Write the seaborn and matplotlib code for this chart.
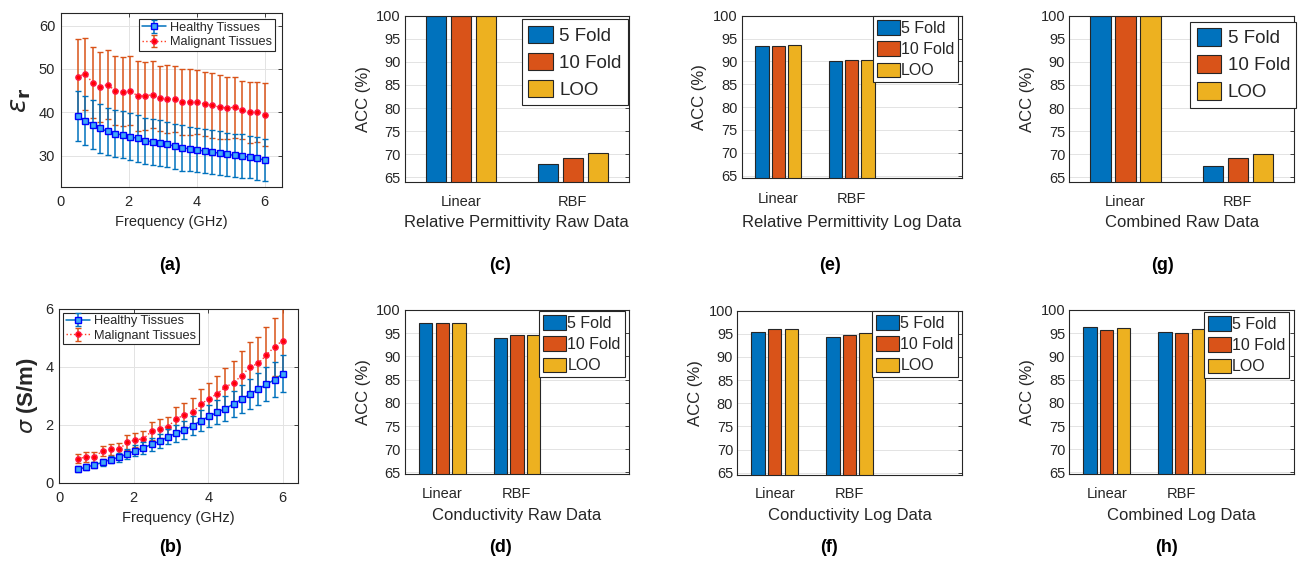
import pandas as pd
import matplotlib
matplotlib.use('Agg')
import matplotlib.pyplot as plt
import seaborn as sns
from matplotlib.patches import Patch

# ==============================================================================
# Data
# ==============================================================================

freq_ghz = [0.5, 0.72, 0.94, 1.16, 1.38, 1.6, 1.82, 2.04, 2.26, 2.48, 2.7, 2.92, 3.14,
            3.36, 3.58, 3.8, 4.02, 4.24, 4.46, 4.68, 4.9, 5.12, 5.34, 5.56, 5.78, 6.0]

eps_healthy = [39.2, 38.1, 37.2, 36.3, 35.6, 35.1, 34.8, 34.4, 34.0, 33.5, 33.2, 33.0, 32.6,
               32.2, 31.8, 31.6, 31.3, 31.1, 30.8, 30.6, 30.3, 30.1, 29.9, 29.7, 29.4, 29.0]
eps_healthy_err = [5.8, 5.7, 5.6, 5.6, 5.5, 5.5, 5.4, 5.4, 5.4, 5.3, 5.3, 5.3, 5.2,
                   5.2, 5.2, 5.1, 5.1, 5.1, 5.1, 5.0, 5.0, 5.0, 5.0, 4.9, 4.9, 4.9]
eps_malignant = [48.2, 48.9, 46.8, 45.9, 46.4, 45.0, 44.8, 45.0, 43.8, 43.8, 44.1, 43.2, 43.1,
                 43.1, 42.4, 42.4, 42.4, 41.9, 41.6, 41.2, 41.0, 41.2, 40.5, 40.0, 40.1, 39.5]
eps_malignant_err = [8.7, 8.3, 8.2, 8.1, 7.9, 8.0, 8.0, 7.9, 8.0, 7.9, 7.8, 7.6, 7.8,
                     7.6, 7.6, 7.6, 7.4, 7.3, 7.4, 7.4, 7.2, 7.0, 6.7, 7.0, 6.9, 7.2]

sig_healthy = [0.47, 0.53, 0.62, 0.70, 0.80, 0.88, 0.99, 1.11, 1.20, 1.33, 1.43, 1.59, 1.71,
               1.82, 1.97, 2.14, 2.29, 2.43, 2.56, 2.72, 2.89, 3.06, 3.23, 3.40, 3.56, 3.76]
sig_healthy_err = [0.09, 0.10, 0.11, 0.12, 0.13, 0.15, 0.17, 0.19, 0.20, 0.22, 0.24, 0.27, 0.29,
                   0.31, 0.33, 0.36, 0.38, 0.41, 0.43, 0.46, 0.49, 0.52, 0.55, 0.58, 0.60, 0.64]
sig_malignant = [0.83, 0.89, 0.89, 1.10, 1.15, 1.15, 1.39, 1.48, 1.52, 1.78, 1.87, 1.94, 2.21,
                 2.34, 2.43, 2.72, 2.89, 3.08, 3.30, 3.46, 3.70, 4.00, 4.12, 4.41, 4.70, 4.91]
sig_malignant_err = [0.16, 0.18, 0.18, 0.18, 0.19, 0.23, 0.27, 0.25, 0.28, 0.31, 0.32, 0.34, 0.42,
                     0.43, 0.51, 0.53, 0.54, 0.61, 0.67, 0.74, 0.84, 0.85, 0.93, 0.98, 1.00, 1.15]

kernels = ['Linear', 'RBF']
folds = ['5 Fold', '10 Fold', 'LOO']

# rows = kernel, columns = fold scheme
acc_perm_raw = [[100.0, 100.0, 100.0], [67.8, 69.3, 70.3]]
acc_cond_raw = [[97.3, 97.3, 97.3], [93.9, 94.7, 94.7]]
acc_perm_log = [[93.3, 93.4, 93.6], [90.1, 90.2, 90.4]]
acc_cond_log = [[95.4, 96.0, 96.0], [94.4, 94.8, 95.1]]
acc_comb_raw = [[100.0, 100.0, 100.0], [67.4, 69.2, 70.1]]
acc_comb_log = [[96.3, 95.6, 96.2], [95.2, 95.0, 95.9]]

fold_colors = {'5 Fold': '#0072BD', '10 Fold': '#D95319', 'LOO': '#EDB120'}
TXT = '#262626'

# ==============================================================================
# Style
# ==============================================================================
sns.set_theme(style='white')
plt.rcParams['font.family'] = ['Liberation Sans', 'DejaVu Sans']
plt.rcParams['mathtext.fontset'] = 'dejavusans'
plt.rcParams['text.color'] = TXT
plt.rcParams['axes.labelcolor'] = TXT
plt.rcParams['xtick.color'] = TXT
plt.rcParams['ytick.color'] = TXT
plt.rcParams['axes.edgecolor'] = TXT
plt.rcParams['axes.linewidth'] = 0.8

W, H = 1302, 570
fig = plt.figure(figsize=(W / 100, H / 100), dpi=100)


def add_axes_px(left, top, right, bottom):
    return fig.add_axes([left / W, 1 - bottom / H, (right - left) / W, (bottom - top) / H])


def legend_px(ax, handles, x0, y0, **kw):
    """Place a legend whose upper-left corner sits at pixel (x0, y0)."""
    leg = ax.legend(handles=handles, loc='upper left', bbox_to_anchor=(x0 / W, 1 - y0 / H),
                    bbox_transform=fig.transFigure, borderaxespad=0, fancybox=False,
                    framealpha=1, edgecolor=TXT, **kw)
    leg.get_frame().set_linewidth(0.8)
    return leg


def line_panel(ax, healthy, healthy_err, malignant, malignant_err):
    mal = ax.errorbar(freq_ghz, malignant, yerr=malignant_err, fmt='o:', color='#D95319',
                      ecolor='#D95319', elinewidth=1.1, capsize=2.5, capthick=1.0,
                      lw=1.0, ms=3.8, mfc='#FF0000', mec='#FF1744', label='Malignant Tissues',
                      zorder=2)
    hea = ax.errorbar(freq_ghz, healthy, yerr=healthy_err, fmt='s-', color='#0072BD',
                      ecolor='#0072BD', elinewidth=1.1, capsize=2.5, capthick=1.0,
                      lw=1.1, ms=3.8, mfc='#3FA9F5', mec='#0000FF', mew=1.0,
                      label='Healthy Tissues', zorder=3)
    mal[0].set_color('#FF3B1F')
    mal[0].set_mfc('#FF0000')
    ax.grid(True, color='#E3E3E3', lw=0.7)
    ax.set_axisbelow(True)
    ax.tick_params(direction='in', length=3, width=0.6, labelsize=10.5,
                   top=True, right=True)
    ax.tick_params(axis='x', pad=6)
    ax.tick_params(axis='y', pad=4)
    return [hea, mal]


def bar_panel(ax, acc, xlabel, ylim_low, n_slots, legend_pos, legend_size, pad_extra=0):
    rows = []
    for k, kernel in enumerate(kernels):
        for f, fold in enumerate(folds):
            rows.append({'Kernel': kernel, 'Fold': fold, 'ACC': acc[k][f]})
    df = pd.DataFrame(rows)
    sns.barplot(data=df, x='Kernel', y='ACC', hue='Fold', order=kernels, hue_order=folds,
                palette=fold_colors, saturation=1, width=0.667, gap=0.19,
                edgecolor=TXT, linewidth=0.8, legend=False, ax=ax, zorder=2)
    ax.set_xlim(-0.5, n_slots - 0.5)
    ax.set_ylim(ylim_low, 100)
    ax.set_yticks(range(65, 101, 5))
    ax.yaxis.grid(True, color='#E3E3E3', lw=0.7)
    ax.set_axisbelow(True)
    ax.tick_params(axis='y', direction='in', length=3, width=0.6, labelsize=10.5,
                   right=True, pad=3)
    ax.tick_params(axis='x', direction='in', length=0, labelsize=10.5, pad=9 + pad_extra)
    ax.set_xlabel(xlabel, fontsize=12, labelpad=5 + pad_extra)
    ax.set_ylabel('ACC (%)', fontsize=12, labelpad=4)
    handles = [Patch(facecolor=fold_colors[f], edgecolor=TXT, linewidth=0.8, label=f)
               for f in folds]
    big = legend_size > 12
    legend_px(ax, handles, legend_pos[0], legend_pos[1], fontsize=legend_size,
              handlelength=1.3 if big else 1.45, handleheight=1.05,
              handletextpad=0.35 if big else 0.05, labelspacing=0.42 if big else 0.35,
              borderpad=0.35 if big else 0.25)


# ==============================================================================
# (a) permittivity
# ==============================================================================
ax_a = add_axes_px(60.7, 13, 281.7, 187)
h = line_panel(ax_a, eps_healthy, eps_healthy_err, eps_malignant, eps_malignant_err)
ax_a.set_xlim(0, 6.5)
ax_a.set_ylim(22.8, 62.9)
ax_a.set_xticks([0, 2, 4, 6])
ax_a.set_yticks([30, 40, 50, 60])
ax_a.set_xlabel('Frequency (GHz)', fontsize=10.5, labelpad=4)
ax_a.set_ylabel(r'$\epsilon_{\mathbf{r}}$', fontsize=19, labelpad=4)
legend_px(ax_a, h, 139.3, 19.3, fontsize=9.2, handlelength=1.9, handletextpad=0.3,
          labelspacing=0.2, borderpad=0.2)

# ==============================================================================
# (b) conductivity
# ==============================================================================
ax_b = add_axes_px(59.3, 309, 297.7, 482.7)
h = line_panel(ax_b, sig_healthy, sig_healthy_err, sig_malignant, sig_malignant_err)
ax_b.set_xlim(0, 6.4)
ax_b.set_ylim(0, 6)
ax_b.set_xticks([0, 2, 4, 6])
ax_b.set_yticks([0, 2, 4, 6])
ax_b.set_xlabel('Frequency (GHz)', fontsize=10.5, labelpad=4)
ax_b.set_ylabel(r'$\sigma$ (S/m)', fontsize=16, fontweight='bold', labelpad=4)
legend_px(ax_b, h, 63.3, 312.7, fontsize=9.2, handlelength=1.9, handletextpad=0.3,
          labelspacing=0.2, borderpad=0.2)

# ==============================================================================
# (c)-(h) SVM accuracy bars
# ==============================================================================
ax_c = add_axes_px(405, 15.7, 628.7, 182)
bar_panel(ax_c, acc_perm_raw, 'Relative Permittivity Raw Data', 64, 2, (521.7, 19.3), 13.5)

ax_d = add_axes_px(405, 310, 628.7, 474.3)
bar_panel(ax_d, acc_cond_raw, 'Conductivity Raw Data', 64.6, 3, (539.3, 310.7), 11.5)

ax_e = add_axes_px(741.7, 15.7, 961.7, 178.3)
bar_panel(ax_e, acc_perm_log, 'Relative Permittivity Log Data', 64.4, 3, (872.7, 15.7), 11.5,
          pad_extra=1)

ax_f = add_axes_px(737.3, 310.7, 961.7, 475)
bar_panel(ax_f, acc_cond_log, 'Conductivity Log Data', 64.5, 3, (872.3, 310.7), 11.5)

ax_g = add_axes_px(1069.3, 15.7, 1294, 182)
bar_panel(ax_g, acc_comb_raw, 'Combined Raw Data', 64, 2, (1190, 21.7), 13.5)

ax_h = add_axes_px(1069.3, 310, 1294, 474.3)
bar_panel(ax_h, acc_comb_log, 'Combined Log Data', 64.6, 3, (1204, 311.7), 11.5)

# panel letters
for lab, x, y in [('(a)', 170, 265), ('(b)', 170, 547), ('(c)', 500, 265), ('(d)', 500, 547),
                  ('(e)', 830, 265), ('(f)', 829, 547), ('(g)', 1163, 265), ('(h)', 1167, 547)]:
    fig.text(x / W, 1 - y / H, lab, ha='center', va='center', fontsize=13,
             fontweight='bold', color='black')

fig.savefig('out.png', dpi=100)
